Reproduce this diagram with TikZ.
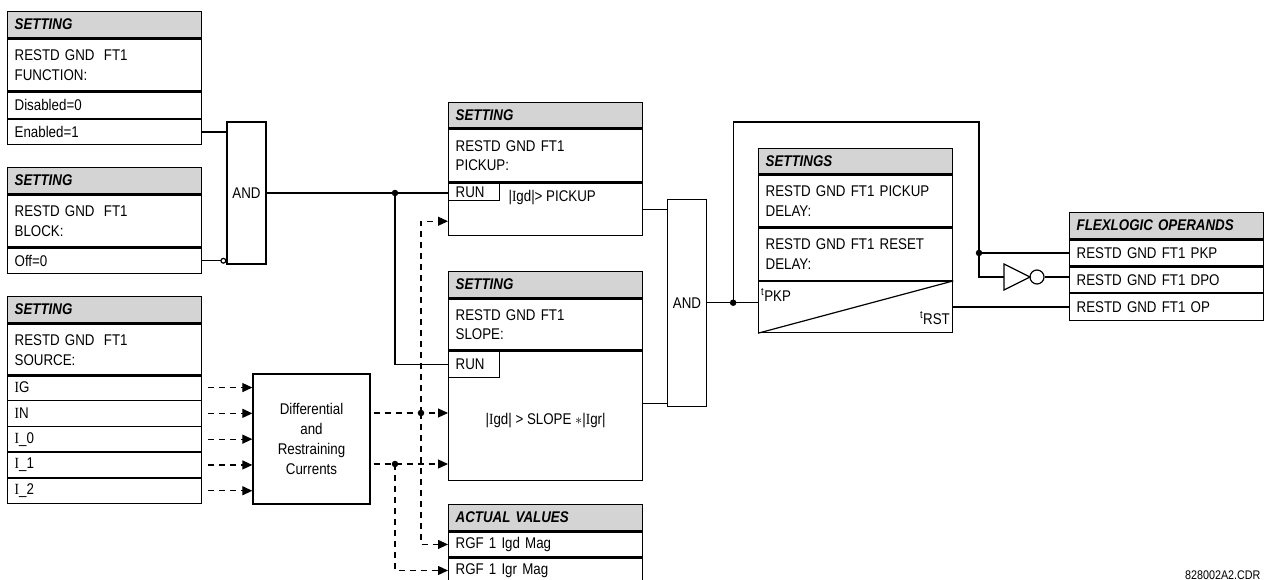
\documentclass[tikz,border=0pt]{standalone}
\usepackage{fontspec}
\setmainfont{Liberation Sans}[FakeStretch=0.86]
\newfontfamily\serI{Liberation Serif}[FakeStretch=0.86]
\usepackage{xcolor}
\usepackage{tikz}
\usetikzlibrary{positioning, arrows.meta}
\definecolor{hdrgray}{gray}{0.83}
\newcommand{\sI}{{\serI I}}

\begin{document}
\begin{tikzpicture}[x=1pt, y=-1pt,
  every node/.style={font=\fontsize{15.5}{19.5}\selectfont},
  cell/.style={draw, line width=1.3pt, anchor=north west, text width=180pt, inner xsep=7pt, inner ysep=0pt, minimum height=#1, align=left},
  hdr/.style={cell=#1, fill=hdrgray, font=\fontsize{15.5}{19.5}\selectfont\bfseries\itshape},
  runbox/.style={draw, line width=1.3pt, anchor=north west, text width=37pt, inner xsep=7pt, inner ysep=0pt, minimum height=#1},
  gate/.style={draw, line width=1.3pt, minimum width=39pt, minimum height=#1, inner sep=0pt},
  wire/.style={line width=1.2pt},
  dsh/.style={line width=1.2pt, dash pattern=on 6pt off 5pt},
  arr/.style={-{Triangle[length=10pt, width=9pt]}},
  dot/.style={circle, fill, inner sep=0pt, minimum size=6.5pt}]
\useasboundingbox (0,0) rectangle (1265,580);
% setting: function
\node[hdr=26pt] (fnH) at (7,11) {SETTING};
\node[cell=52pt] (fnT) at (fnH.south west) {RESTD GND\hspace{0.6em}FT1\\FUNCTION:};
\node[cell=26pt] (fnD) at (fnT.south west) {Disabled=0};
\node[cell=25pt] (fnE) at (fnD.south west) {Enabled=1};
% setting: block
\node[hdr=26pt] (blkH) at (7,167) {SETTING};
\node[cell=52pt] (blkT) at (blkH.south west) {RESTD GND\hspace{0.6em}FT1\\BLOCK:};
\node[cell=25pt] (blkO) at (blkT.south west) {Off=0};
% first AND
\node[gate=142pt] (and1) at (246.5,193) {AND};
\draw[wire] (fnE.east) -- (fnE.east -| and1.west);
\draw[wire, -{Circle[open, length=6pt, width=6pt]}] (blkO.east) -- (blkO.east -| and1.west);
% setting: source and currents
\node[hdr=26pt] (srcH) at (7,296) {SETTING};
\node[cell=52pt] (srcT) at (srcH.south west) {RESTD GND\hspace{0.6em}FT1\\SOURCE:};
\node[draw, line width=1.3pt, minimum width=117pt, minimum height=130pt, align=center,
  font=\fontsize{15.5}{20}\selectfont] (diff) at (311.5,439) {Differential\\and\\Restraining\\Currents};
\foreach \lbl [count=\i] in {\sI G, \sI N, \sI\_0, \sI\_1, \sI\_2} {
  \node[cell=25.8pt] (src\i) at (7,{374+25.8*(\i-1)}) {\lbl};
  \draw[dsh, arr] ([xshift=6pt]src\i.east) -- (src\i.east -| diff.west);
}
% setting: pickup
\node[hdr=25pt] (pkH) at (448,102) {SETTING};
\node[cell=53pt] (pkT) at (pkH.south west) {RESTD GND FT1\\PICKUP:};
\node[cell=52pt] (pkC) at (pkT.south west) {};
\node[runbox=17pt] (pkrun) at (pkC.north west) {RUN};
\node[anchor=west] (pktxt) at (505,198) {|\sI gd|> PICKUP};
% setting: slope
\node[hdr=26pt] (slH) at (448,271) {SETTING};
\node[cell=51pt] (slT) at (slH.south west) {RESTD GND FT1\\SLOPE:};
\node[cell=129pt] (slC) at (slT.south west) {};
\node[runbox=26pt] (slrun) at (slC.north west) {RUN};
\node (sltxt) at ([yshift=-5pt]slC.center) {|\sI gd| > SLOPE $\ast$|\sI gr|};
% actual values
\node[hdr=26pt] (avH) at (448,504) {ACTUAL VALUES};
\node[cell=25pt] (avIgd) at (avH.south west) {RGF 1 Igd Mag};
\node[cell=24.5pt] (avIgr) at (avIgd.south west) {RGF 1 Igr Mag};
% run signal
\coordinate (j1) at (395,193);
\draw[wire] (and1.east) -- (and1.east -| pkC.west);
\draw[wire] (j1) |- (slrun.west);
% current signals
\coordinate (dfo) at ([xshift=3pt]diff.east);
\coordinate (j6) at (421,413);
\coordinate (j7) at (395,464);
\draw[dsh, arr] (dfo |- j6) -- (j6 -| slC.west);
\draw[dsh, arr] (dfo |- j7) -- (j7 -| slC.west);
\draw[dsh, arr] (j6) |- ([yshift=-12pt]pkC.west);
\draw[dsh, arr] (j6) |- (avIgd.west);
\draw[dsh, arr] (j7) |- (avIgr.west);
% second AND
\node[gate=207pt] (and2) at (687,302.7) {AND};
\draw[wire] (pkC.east) -- (pkC.east -| and2.west);
\draw[wire] ([yshift=12.5pt]slC.east) -- ([yshift=12.5pt]slC.east -| and2.west);
% timer settings
\node[hdr=25pt] (tmH) at (758,148) {SETTINGS};
\node[cell=52pt] (tmP) at (tmH.south west) {RESTD GND FT1 PICKUP\\DELAY:};
\node[cell=52pt] (tmR) at (tmP.south west) {RESTD GND FT1 RESET\\DELAY:};
\node[cell=51pt] (tmC) at (tmR.south west) {};
\draw[wire] (tmC.south west) -- (tmC.north east);
\node[anchor=base west, inner sep=0pt] (tpkp) at (761,301) {\textsuperscript{t}PKP};
\node[anchor=base east, inner sep=0pt] (trst) at (950,324) {\textsuperscript{t}RST};
\coordinate (j3) at ([xshift=26pt]and2.east);
\draw[wire] (and2.east) -- (and2.east -| tmC.west);
% flexlogic operands
\node[hdr=26pt] (flH) at (1069,212) {FLEXLOGIC OPERANDS};
\node[cell=26pt] (flPKP) at (flH.south west) {RESTD GND FT1 PKP};
\node[cell=25pt] (flDPO) at (flPKP.south west) {RESTD GND FT1 DPO};
\node[cell=27pt] (flOP) at (flDPO.south west) {RESTD GND FT1 OP};
\draw[wire] (tmC.east) -- (tmC.east -| flOP.west);
% feedback and NOT gate
\coordinate (fbR) at (979,122);
\coordinate (ngL) at (1004,277);
\coordinate (j4) at (fbR |- flPKP.west);
\draw[wire] (j3) |- (fbR) |- (ngL);
\draw[wire] (j4) -- (flPKP.west);
\draw[wire] (ngL) ++(0,-13) -- ++(26,13) -- ++(-26,13) -- cycle;
\node[circle, draw, line width=1.2pt, minimum size=14pt, inner sep=0pt] (ngB) at (1037,277) {};
\draw[wire] (ngB.east) -- (ngB.east -| flDPO.west);
% junction dots
\node[dot] (d1) at (j1) {};
\node[dot] (d3) at (j3) {};
\node[dot] (d4) at (j4) {};
\node[dot] (d6) at (j6) {};
\node[dot] (d7) at (j7) {};
\node[anchor=east, font=\fontsize{12.5}{14}\selectfont] (dwg) at (1264,575) {828002A2.CDR};
\end{tikzpicture}
\end{document}
